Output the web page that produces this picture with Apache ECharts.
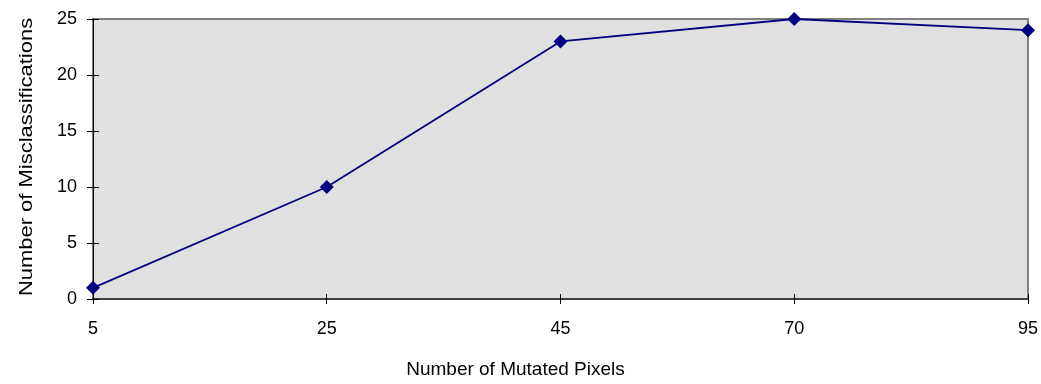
<!DOCTYPE html>
<html><head><meta charset="utf-8">
<script src="https://cdn.jsdelivr.net/npm/echarts@6/dist/echarts.min.js"></script>
<style>html,body{margin:0;padding:0;background:#fff}#c{width:1041px;height:384px}</style>
</head><body><div id="c"></div>
<script>
const categories = ['5', '25', '45', '70', '95'];
const misclassifications = [1, 10, 23, 25, 24];
const yTicks = [0, 5, 10, 15, 20, 25];
const xTitle = 'Number of Mutated Pixels';
const yTitle = 'Number of Misclassifications';

const font = 'Liberation Sans, Arial, sans-serif';
const chart = echarts.init(document.getElementById('c'));
chart.setOption({
  animation: false,
  grid: { left: 93, right: 12, top: 19, bottom: 84, show: true, backgroundColor: '#e0e0e0', borderColor: '#808080', borderWidth: 2 },
  graphic: [{
    type: 'text', x: 27, y: 157, rotation: Math.PI / 2, scaleX: 1.22,
    style: { text: yTitle, font: '18px Liberation Sans, Arial, sans-serif', fill: '#000', align: 'center', verticalAlign: 'middle' }
  }],
  xAxis: [{
    type: 'category', data: categories, boundaryGap: false,
    name: xTitle, nameLocation: 'middle', nameGap: 61,
    nameTextStyle: { fontFamily: font, fontSize: 19, color: '#000', padding: [0, 90, 0, 0] },
    axisLine: { lineStyle: { color: '#404040', width: 2 } },
    axisTick: { show: true, length: 5, lineStyle: { color: '#000' } },
    axisLabel: { fontFamily: font, fontSize: 18, color: '#000', margin: 21 },
    splitLine: { show: false }
  }, {
    type: 'category', data: categories, boundaryGap: false, position: 'bottom',
    axisLine: { show: false },
    axisTick: { show: true, inside: true, length: 5, lineStyle: { color: '#000' } },
    axisLabel: { show: false }, splitLine: { show: false }
  }],
  yAxis: [{
    type: 'value', min: yTicks[0], max: yTicks[yTicks.length - 1], interval: 5,
    axisLine: { show: true, lineStyle: { color: '#000', width: 1 } },
    axisTick: { show: true, length: 6, lineStyle: { color: '#000' } },
    axisLabel: { fontFamily: font, fontSize: 18, color: '#000', margin: 16 },
    splitLine: { show: false }
  }, {
    type: 'value', min: 0, max: 25, interval: 5, position: 'left',
    axisLine: { show: false },
    axisTick: { show: true, inside: true, length: 6, lineStyle: { color: '#000' } },
    axisLabel: { show: false }, splitLine: { show: false }
  }],
  series: [{
    type: 'line', data: misclassifications,
    symbol: 'diamond', symbolSize: 14,
    lineStyle: { color: '#000080', width: 1.8 },
    itemStyle: { color: '#000080' }
  }]
});
</script></body></html>
